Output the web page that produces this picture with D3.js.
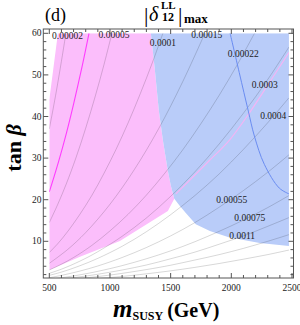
<!DOCTYPE html>
<html><head><meta charset="utf-8">
<script src="https://cdn.jsdelivr.net/npm/d3@7"></script>
<style>body{margin:0;background:#fff}svg{display:block}</style>
</head><body><svg id="c" width="300" height="325"></svg>
<script>
// ---------- data ----------
const xTicks = [500, 1000, 1500, 2000, 2500];
const yTicks = [10, 20, 30, 40, 50, 60];

// shaded regions (m_SUSY, tan beta)
const pinkBottom = [[500, 3.1], [753, 6.3], [1082, 10.1], [1329, 14.6], [1477, 17.3], [1530, 20.2]];
const blueLeft   = [[1337, 60], [1370, 51.2], [1403, 41.3], [1436, 34.3], [1477, 26.9], [1502, 23.3], [1530, 20.2]];
const blueBottom = [[1530, 20.2], [1576, 18.5], [1625, 16.8], [1707, 14.1], [1823, 12.5], [1979, 11.0], [2234, 9.6], [2475, 8.9]];
const pinkCorner = [[571, 60], [500, 44]];
const mMax = 2475;

// contour lines of |delta12 LL|max
const c00002 = [[637, 60], [600, 53.3], [560, 46.4], [530, 41.6], [500, 37.0]];
const c00005 = [[1016, 60], [950, 52.4], [880, 45], [800, 37.2], [720, 30.1], [640, 23.8], [570, 18.9], [500, 14.5]];
const c0001  = [[1436, 60], [1350, 53], [1250, 45.5], [1150, 38.5], [1050, 32.1], [950, 26.3], [850, 21], [750, 16.4], [650, 12.3], [575, 9.6], [500, 7.3]];
const c00015 = [[1782, 60], [1600, 48.4], [1400, 37], [1200, 27.2], [1000, 18.9], [800, 12.1], [650, 8.0], [500, 4.7]];
const c00022 = [[2191, 60], [2050, 52.5], [1900, 45.1], [1750, 38.3], [1600, 32], [1450, 26.3], [1300, 21.1], [1150, 16.5], [1000, 12.5], [850, 9.0], [700, 6.1], [600, 4.5], [500, 3.1]];
const c0003  = [[2475, 56.7], [2300, 48.9], [2100, 40.8], [1900, 33.4], [1700, 26.7], [1500, 20.8], [1300, 15.6], [1100, 11.2], [900, 7.5], [750, 5.2], [600, 3.3], [500, 2.3]];
const c0004  = [[2475, 44.5], [2300, 38.5], [2100, 32.1], [1900, 26.2], [1700, 21], [1500, 16.4], [1300, 12.3], [1100, 8.8], [900, 5.9], [750, 4.1], [600, 2.6], [500, 1.82]];
const c00055 = [[2475, 30.8], [2300, 26.6], [2100, 22.2], [1900, 18.2], [1700, 14.5], [1500, 11.3], [1300, 8.5], [1100, 6.1], [900, 4.07], [750, 2.83], [630, 2.0], [550, 1.52], [500, 1.26]];
const c00075 = [[2475, 21], [2300, 18.1], [2100, 15.1], [1900, 12.4], [1700, 9.9], [1500, 7.7], [1300, 5.8], [1100, 4.15], [900, 2.78], [764, 2.0], [650, 1.45], [540, 1.0]];
const c0011  = [[2475, 15.7], [2300, 13.6], [2100, 11.3], [1900, 9.3], [1700, 7.4], [1500, 5.8], [1300, 4.3], [1100, 3.1], [882, 2.0], [750, 1.45], [624, 1.0]];
const c0015  = [[2475, 11.6], [2300, 10], [2100, 8.3], [1900, 6.8], [1700, 5.5], [1500, 4.25], [1300, 3.2], [1029, 2.0], [850, 1.37], [727, 1.0]];
const c0022  = [[2475, 7.9], [2300, 6.8], [2100, 5.7], [1900, 4.66], [1700, 3.73], [1500, 2.9], [1245, 2.0], [1050, 1.42], [880, 1.0]];
const grayContours = [c00002, c00005, c0001, c00015, c00022, c0003, c0004, c00055, c00075, c0011, c0015, c0022];

// coloured reference lines
const magentaLine = [[827, 60], [770, 52], [700, 43], [640, 35.9], [580, 29.5], [540, 25.6], [500, 21.9]];
const blueLine    = [[1990, 60], [2065, 50.6], [2140, 41.3], [2190, 35.3], [2272, 28.5], [2395, 22.8], [2475, 21.4]];
const pinkLine    = [[2475, 55.4], [2310, 48], [2159, 41.3], [1987, 34.4], [1815, 29.3], [1650, 24.5], [1543, 21.4]];

// contour labels
const labelText = ["0.00002", "0.00005", "0.0001", "0.00015", "0.00022", "0.0003", "0.0004", "0.00055", "0.00075", "0.0011"];
const labelPos  = [[650, 59.5], [1033, 59.6], [1436, 57.7], [1798, 59.6], [2098, 55.1], [2275, 47.5], [2345, 40.1], [2004, 20.0], [2152, 15.7], [2090, 11.3]];

// ---------- drawing ----------
const svg = d3.select("#c");
const x = d3.scaleLinear().domain([500, 2500]).range([49.3, 292]);
const y = d3.scaleLinear().domain([10, 60]).range([241.3, 33.3]);
const frame = {x0: 43.3, x1: 293.5, y0: 29, y1: 278};
const serif = "'Liberation Serif', 'Times New Roman', serif";

svg.append("clipPath").attr("id", "clip").append("rect")
  .attr("x", x(500)).attr("y", y(60)).attr("width", x(mMax) - x(500)).attr("height", frame.y1 - y(60));

const g = svg.append("g").attr("clip-path", "url(#clip)");
const poly = d3.line().x(d => x(d[0])).y(d => y(d[1]));
const cr = d3.line().x(d => x(d[0])).y(d => y(d[1])).curve(d3.curveCatmullRom);

// pink region
const pinkPts = [pinkCorner[0], ...blueLeft, ...pinkBottom.slice().reverse(), pinkCorner[1]];
g.append("path").attr("d", poly(pinkPts)).attr("fill", "#fbbefb");
// blue region
const bluePts = [blueLeft[0], [mMax, 60], [mMax, 8.9], ...blueBottom.slice().reverse(), ...blueLeft.slice().reverse()];
g.append("path").attr("d", poly(bluePts)).attr("fill", "#b9ccf9");

// gray contours
grayContours.forEach(c => {
  g.append("path").attr("d", cr(c))
    .attr("fill", "none").attr("stroke", "#000").attr("stroke-opacity", 0.2).attr("stroke-width", 0.8);
});
g.append("path").attr("d", cr(pinkLine)).attr("fill", "none").attr("stroke", "#f3b4f4").attr("stroke-width", 1.2);
g.append("path").attr("d", cr(magentaLine)).attr("fill", "none").attr("stroke", "#ff3cff").attr("stroke-width", 1.1);
g.append("path").attr("d", cr(blueLine)).attr("fill", "none").attr("stroke", "#6a8cf0").attr("stroke-width", 1);

// contour labels
labelText.forEach((t, i) => {
  svg.append("text").attr("x", x(labelPos[i][0])).attr("y", y(labelPos[i][1]))
    .attr("text-anchor", "middle").attr("dy", "0.33em")
    .attr("font-family", serif).attr("font-size", 9.5).attr("fill", "#222").text(t);
});

// frame & ticks
svg.append("rect").attr("x", frame.x0).attr("y", frame.y0)
  .attr("width", frame.x1 - frame.x0).attr("height", frame.y1 - frame.y0)
  .attr("fill", "none").attr("stroke", "#555").attr("stroke-width", 1);
const tk = svg.append("g").attr("stroke", "#555").attr("stroke-width", 1);
d3.range(500, 2501, 100).forEach(v => {
  const L = v % 500 === 0 ? 5 : 3;
  tk.append("line").attr("x1", x(v)).attr("x2", x(v)).attr("y1", frame.y1).attr("y2", frame.y1 - L);
  tk.append("line").attr("x1", x(v)).attr("x2", x(v)).attr("y1", frame.y0).attr("y2", frame.y0 + L);
});
d3.range(2, 61, 2).forEach(v => {
  const L = v % 10 === 0 ? 5 : 3;
  tk.append("line").attr("y1", y(v)).attr("y2", y(v)).attr("x1", frame.x0).attr("x2", frame.x0 + L);
  tk.append("line").attr("y1", y(v)).attr("y2", y(v)).attr("x1", frame.x1).attr("x2", frame.x1 - L);
});
xTicks.forEach(v => svg.append("text").attr("x", x(v)).attr("y", 291).attr("text-anchor", "middle")
  .attr("font-family", serif).attr("font-size", 9.5).attr("fill", "#222").text(v));
yTicks.forEach(v => svg.append("text").attr("x", 41.5).attr("y", y(v)).attr("dy", "0.33em").attr("text-anchor", "end")
  .attr("font-family", serif).attr("font-size", 9.5).attr("fill", "#222").text(v));

// titles
svg.append("text").attr("x", 45).attr("y", 21).attr("font-family", serif).attr("font-size", 18).text("(d)");
const tt = svg.append("g").attr("font-family", serif);
tt.append("text").attr("x", 144).attr("y", 22).attr("font-size", 22).text("|");
tt.append("text").attr("x", 149).attr("y", 21).attr("font-size", 20).attr("font-style", "italic").text("δ");
tt.append("text").attr("x", 161).attr("y", 9).attr("font-size", 11).attr("font-weight", "bold").text("LL");
tt.append("text").attr("x", 162).attr("y", 21).attr("font-size", 12).attr("font-weight", "bold").text("12");
tt.append("text").attr("x", 178).attr("y", 22).attr("font-size", 22).text("|");
tt.append("text").attr("x", 184).attr("y", 23).attr("font-size", 13).attr("font-weight", "bold").text("max");

svg.append("text").attr("transform", "translate(21,148) rotate(-90)").attr("text-anchor", "middle")
  .attr("font-family", serif).attr("font-size", 22).attr("font-weight", "bold")
  .html("tan <tspan font-style='italic'>β</tspan>");

const xl = svg.append("text").attr("x", 113).attr("y", 317).attr("font-family", serif).attr("font-weight", "bold");
xl.append("tspan").attr("font-size", 25).attr("font-style", "italic").text("m");
xl.append("tspan").attr("font-size", 12).attr("dy", 3).text("SUSY");
xl.append("tspan").attr("font-size", 20).attr("dy", -3).attr("dx", 4).text("(GeV)");
</script></body></html>
